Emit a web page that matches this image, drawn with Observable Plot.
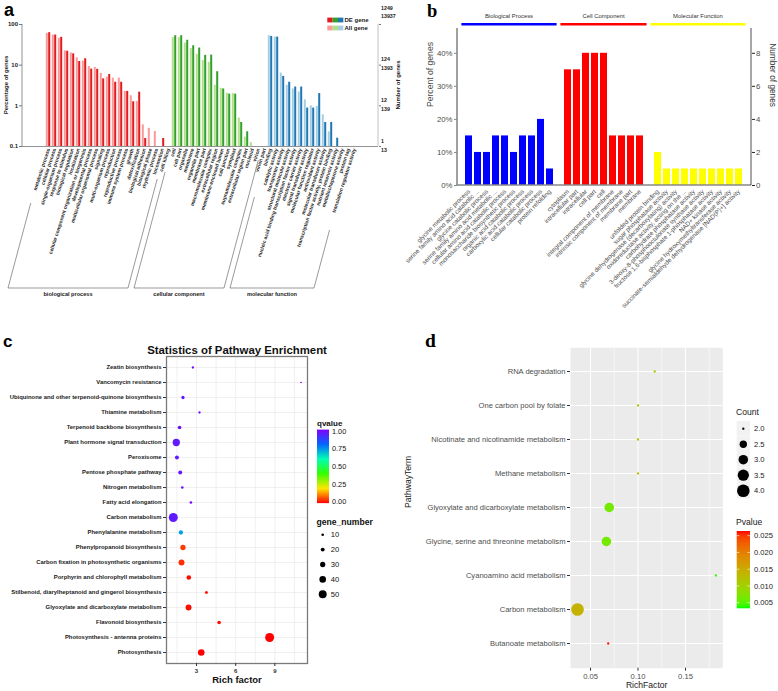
<!DOCTYPE html>
<html><head><meta charset="utf-8">
<script src="https://cdn.jsdelivr.net/npm/d3@7"></script>
<script src="https://cdn.jsdelivr.net/npm/@observablehq/plot@0.6"></script>
<style>
body{margin:0;background:#fff;}
#fig{position:relative;width:778px;height:691px;overflow:hidden;background:#fff;}
.panel{position:absolute;}
</style></head><body>
<div id="fig">
  <div class="panel" id="pa" style="left:0;top:0"></div>
  <div class="panel" id="pb" style="left:385px;top:0"></div>
  <div class="panel" id="pc" style="left:0;top:330px"></div>
  <div class="panel" id="pd" style="left:385px;top:330px"></div>
  <svg id="letters" width="778" height="691" style="position:absolute;left:0;top:0;pointer-events:none">
    <text x="4" y="16" font-family="Liberation Sans" font-weight="bold" font-size="18">a</text>
    <text x="427" y="17" font-family="Liberation Serif" font-weight="bold" font-size="18.5">b</text>
    <text x="3" y="347" font-family="Liberation Sans" font-weight="bold" font-size="17">c</text>
    <text x="425" y="347" font-family="Liberation Serif" font-weight="bold" font-size="19.5">d</text>
  </svg>
</div>
<script>
// ================= DATA =================
// Panel a (GO classification, % of genes, log scale)
const aBPTerms = ["metabolic process","cellular process","single-organism process","response to stimulus","biological regulation","localization","cellular component organization or biogenesis","developmental process","multicellular organismal process","signaling","multi-organism process","reproduction","reproductive process","immune system process","growth","detoxification","biological adhesion","biological phase","rhythmic process","locomotion","cell killing"];
const aBPAll = [60,55,46,22.5,20,15.2,12.6,9.3,8.8,6.3,5.1,4.8,4.8,2.26,1.77,1.28,0.34,0.28,0.234,null,null];
const aBPDE  = [63,55,48.4,22,19,12.3,14.4,8.0,7.9,4.6,5.9,3.8,3.8,2.26,1.26,2.17,0.157,null,null,0.157,null];
const aCCTerms = ["cell","cell part","organelle","membrane","organelle part","membrane part","macromolecular complex","extracellular region","membrane-enclosed lumen","cell junction","symplast","supramolecular complex","extracellular region part","nucleoid","virion","virion part"];
const aCCAll = [47.6,47.6,35,25.5,18.5,13,11.7,3.2,2.7,2.05,2.0,0.5,0.17,0.125,null,null];
const aCCDE  = [53,53,41,30,26.4,17.4,17.7,6.9,2.6,1.94,1.94,0.39,0.23,null,null,null];
const aMFTerms = ["binding","catalytic activity","transporter activity","structural molecule activity","nucleic acid binding transcription factor activity","electron carrier activity","signal transducer activity","molecular function regulator","antioxidant activity","molecular transducer activity","transcription factor activity, protein binding","nutrient reservoir activity","metallochaperone activity","protein tag","translation regulator activity"];
const aMFAll = [53,49,6.4,3.2,2.6,2.2,1.4,1.0,0.97,0.6,0.23,null,null,null,null];
const aMFDE  = [51,49,5.3,3.8,2.9,2.9,0.88,0.88,2.0,0.39,0.39,0.16,null,null,null];
const aGroupNames = ["biological process","cellular component","molecular function"];
const aPctTicks = [0.1,1,10,100];
const aDECounts = [1,12,124,1249];
const aAllCounts = [13,139,1393,13937];
const aLegendLabels = ["DE gene","All gene"];

// Panel b (enriched GO terms)
const bBPTerms = ["glycine metabolic process","serine family amino acid catabolic ...","glycine catabolic process","serine family amino acid metabolic ...","cellular amino acid catabolic process","monosaccharide biosynthetic process","organic acid catabolic process","carboxylic acid catabolic process","cellular catabolic process","protein refolding"];
const bBPPct = [15,10,10,15,15,10,15,15,20,5];
const bCCTerms = ["cytoplasm","intracellular part","intracellular","cell part","cell","integral component of membrane","intrinsic component of membrane","membrane part","membrane"];
const bCCPct = [35,35,40,40,40,15,15,15,15];
const bMFTerms = ["unfolded protein binding","sugar phosphatase activity","glycine dehydrogenase (decarboxylating) activity","oxidoreductase activity, acting on the ...","carbohydrate phosphatase activity","3-deoxy-8-phosphooctulonate synthase activity","fructose 1,6-bisphosphate 1-phosphatase activity","NAD+ kinase activity","glycine hydroxymethyltransferase activity","succinate-semialdehyde dehydrogenase [NAD(P)+] activity"];
const bMFPct = [10,5,5,5,5,5,5,5,5,5];
const bGroupNames = ["Biological Process","Cell Component","Molecular Function"];
const bPctTicks = [0,10,20,30,40];

// Panel c (KEGG pathway enrichment)
const cPaths = ["Zeatin biosynthesis","Vancomycin resistance","Ubiquinone and other terpenoid-quinone biosynthesis","Thiamine metabolism","Terpenoid backbone biosynthesis","Plant hormone signal transduction","Peroxisome","Pentose phosphate pathway","Nitrogen metabolism","Fatty acid elongation","Carbon metabolism","Phenylalanine metabolism","Phenylpropanoid biosynthesis","Carbon fixation in photosynthetic organisms","Porphyrin and chlorophyll metabolism","Stilbenoid, diarylheptanoid and gingerol biosynthesis","Glyoxylate and dicarboxylate metabolism","Flavonoid biosynthesis","Photosynthesis - antenna proteins","Photosynthesis"];
const cRich  = [2.72,11.0,1.96,3.23,1.70,1.45,1.50,1.75,1.91,2.57,1.22,1.80,1.96,1.85,2.41,3.76,2.39,4.73,8.6,3.36];
const cGenes = [8,3,15,8,18,45,20,20,10,10,58,23,30,35,25,13,35,18,58,40];
const cQ     = [0.99,0.99,0.96,0.99,0.97,0.95,0.95,0.96,0.97,0.99,0.95,0.72,0.05,0.04,0.01,0.01,0.01,0.01,0.0,0.0];
const cXTicks = [3,6,9];
const cGrid = [1.5,3,4.5,6,7.5,9,10.5];
const cQTicks = [1,0.75,0.5,0.25,0];
const cGeneTicks = [10,20,30,40,50];

// Panel d (KEGG pathway enrichment)
const dPaths = ["RNA degradation","One carbon pool by folate","Nicotinate and nicotinamide metabolism","Methane metabolism","Glyoxylate and dicarboxylate metabolism","Glycine, serine and threonine metabolism","Cyanoamino acid metabolism","Carbon metabolism","Butanoate metabolism"];
const dRich  = [0.1176,0.1,0.1,0.1,0.0697,0.0667,0.182,0.0363,0.0686];
const dCount = [2,2,2,2,3,3,2,4,2];
const dP     = [0.0105,0.0125,0.0125,0.0125,0.0065,0.0065,0.0038,0.0142,0.0262];
const dXTicks = [0.05,0.10,0.15];
const dMinor = [0.075,0.125,0.175];
const dCountTicks = [2.0,2.5,3.0,3.5,4.0];
const dPTicks = [0.025,0.020,0.015,0.010,0.005];

// ================= STYLE / HELPERS =================
const SANS = "Liberation Sans, Arial, sans-serif";
const svgStyle = {background:"transparent", overflow:"visible", fontFamily:SANS};
const cRainbowStops = [0,0.2,0.4,0.6,0.8,1];
const cRainbow = ["#ff0000","#ffe600","#33ff00","#00ffb3","#0066ff","#8000ff"];
function G(){ return d3.create("svg:g").attr("text-anchor","start").attr("font-family",SANS); }
function mid(x, v){ return x(v) + (x.bandwidth ? x.bandwidth()/2 : 0); }

// ================= PANEL A =================
(function(){
  const style = {
    BP:{light:"#fb9a99", dark:"#e31a1c"},
    CC:{light:"#b2df8a", dark:"#33a02c"},
    MF:{light:"#a6cee3", dark:"#1f78b4"}
  };
  const groups = [
    {key:"BP", terms:aBPTerms, all:aBPAll, de:aBPDE, name:aGroupNames[0]},
    {key:"CC", terms:aCCTerms, all:aCCAll, de:aCCDE, name:aGroupNames[1]},
    {key:"MF", terms:aMFTerms, all:aMFAll, de:aMFDE, name:aGroupNames[2]}
  ];
  const rows = groups.flatMap(g => g.terms.map((t,i)=>({term:t, group:g.key, all:g.all[i], de:g.de[i]})));
  const domain = rows.map(d=>d.term);
  const marks = [];
  for (const g of groups) {
    marks.push(Plot.barY(rows.filter(d=>d.group===g.key && d.all!=null), {x:"term", y1:0.1, y2:"all", fill:style[g.key].light, insetLeft:0.8, insetRight:3.2}));
    marks.push(Plot.barY(rows.filter(d=>d.group===g.key && d.de!=null), {x:"term", y1:0.1, y2:"de", fill:style[g.key].dark, insetLeft:3.2, insetRight:0.8}));
  }
  const isTop = d => d === aPctTicks[aPctTicks.length-1];
  const bracketTop = {BP:[203,179], CC:[172,160], MF:[197,230]};
  const chart = Plot.plot({
    width:405, height:310,
    marginLeft:22, marginRight:27, marginTop:24, marginBottom:164,
    x:{type:"band", domain, range:[34.2,367], padding:0},
    y:{type:"log", domain:[0.1,100]},
    style:svgStyle,
    marks:[
      ...marks,
      Plot.ruleY([0.1], {stroke:"#777", strokeWidth:0.8}),
      Plot.axisX({label:null, tickRotate:-72, tickSize:0, tickPadding:2, fontSize:5, fontWeight:"bold", fill:"#222"}),
      Plot.axisY({label:null, ticks:aPctTicks, tickFormat:d=>String(d), tickSize:3, tickPadding:1.5, fontSize:6, fontWeight:"bold", stroke:"#777", fill:"#222"}),
      Plot.axisY({label:null, anchor:"right", ticks:aPctTicks, tickFormat:()=>"", tickSize:2, stroke:"#777"}),
      (index, scales, values, dim) => {
        const x = scales.x, y = scales.y;
        const g = G();
        const {width, height, marginLeft, marginRight, marginTop, marginBottom} = dim;
        const xr = width - marginRight;
        g.append("line").attr("x1",marginLeft).attr("x2",marginLeft).attr("y1",marginTop).attr("y2",height-marginBottom).attr("stroke","#777").attr("stroke-width",0.8);
        g.append("line").attr("x1",xr).attr("x2",xr).attr("y1",marginTop).attr("y2",height-marginBottom).attr("stroke","#999").attr("stroke-width",0.6);
        // right axis: DE count above, All count below each tick
        aPctTicks.forEach((v,i) => {
          const yy = y(v);
          const dDE = isTop(v) ? -14.5 : -3.2, dAll = isTop(v) ? -6.5 : 5.8;
          g.append("text").attr("x",xr+3).attr("y",yy+dDE).attr("font-size",5.3).attr("font-weight","bold").attr("fill","#222").text(String(aDECounts[i]));
          g.append("text").attr("x",xr+3).attr("y",yy+dAll).attr("font-size",5.3).attr("font-weight","bold").attr("fill","#222").text(String(aAllCounts[i]));
        });
        // axis titles
        const ym = (marginTop + height - marginBottom)/2;
        g.append("text").attr("transform",`translate(8,${ym}) rotate(-90)`).attr("text-anchor","middle").attr("font-size",6).attr("font-weight","bold").attr("fill","#222").text("Percentage of genes");
        g.append("text").attr("transform",`translate(400,${ym}) rotate(-90)`).attr("text-anchor","middle").attr("font-size",6).attr("font-weight","bold").attr("fill","#222").text("Number of genes");
        // brackets
        const yb = 288, k = 1/Math.tan(75*Math.PI/180);
        for (const gr of groups) {
          const bL = mid(x, gr.terms[0]) - 40, bR = mid(x, gr.terms[gr.terms.length-1]) - 40;
          const [tL, tR] = bracketTop[gr.key];
          g.append("path").attr("d", `M${bL + (yb-tL)*k},${tL}L${bL},${yb}L${bR},${yb}L${bR + (yb-tR)*k},${tR}`)
            .attr("fill","none").attr("stroke","#555").attr("stroke-width",0.6);
          g.append("text").attr("x",(bL+bR)/2).attr("y",yb+8).attr("text-anchor","middle")
            .attr("font-size",5.6).attr("font-weight","bold").attr("fill","#222").text(gr.name);
        }
        // legend
        const keys = ["BP","CC","MF"];
        aLegendLabels.forEach((lab, r) => {
          keys.forEach((key, c) => {
            g.append("rect").attr("x", 327.3 + c*5.35).attr("y", 17.6 + r*8).attr("width",5.35).attr("height",4.8)
              .attr("fill", r===0 ? style[key].dark : style[key].light);
          });
          g.append("text").attr("x",344.5).attr("y",22.3 + r*8).attr("font-size",6).attr("font-weight","bold").attr("fill","#222").text(lab);
        });
        return g.node();
      }
    ]
  });
  document.getElementById("pa").appendChild(chart);
})();

// ================= PANEL B =================
(function(){
  const groups = [
    {terms:bBPTerms, pct:bBPPct, color:"#0000ff", name:bGroupNames[0]},
    {terms:bCCTerms, pct:bCCPct, color:"#ff0000", name:bGroupNames[1]},
    {terms:bMFTerms, pct:bMFPct, color:"#ffff00", name:bGroupNames[2]}
  ];
  const domain = [...bBPTerms, "gap1", ...bCCTerms, "gap2", ...bMFTerms];
  const chart = Plot.plot({
    width:393, height:330,
    marginLeft:72, marginRight:27, marginTop:28, marginBottom:145,
    x:{type:"band", domain, range:[76.5,361.5], padding:0.2},
    y:{domain:[0,47.5]},
    style:svgStyle,
    marks:[
      ...groups.map(g => Plot.barY(g.terms.map((t,i)=>({term:t, pct:g.pct[i]})), {x:"term", y:"pct", fill:g.color})),
      Plot.axisX({label:null, tickRotate:-45, tickSize:0, tickPadding:5, fontSize:6.3, fill:"#4d4d4d", tickFormat:d=>d.startsWith("gap")?"":d}),
      Plot.axisY({label:null, ticks:bPctTicks, tickFormat:d=>d+"%", tickSize:3, tickPadding:2, stroke:"#888", fontSize:7.8, fill:"#4d4d4d"}),
      Plot.axisY({label:null, anchor:"right", ticks:bPctTicks, tickFormat:d=>String(d/5), tickSize:3, tickPadding:1.5, stroke:"#222", fontSize:7.8, fill:"#4d4d4d"}),
      Plot.text(["Percent of genes"], {frameAnchor:"left", rotate:-90, dx:-27, fontSize:8.6, fill:"#4d4d4d"}),
      Plot.text(["Number of genes"], {frameAnchor:"right", rotate:90, dx:21.5, fontSize:8.3, fill:"#333"}),
      (index, scales, values, dim) => {
        const x = scales.x, bw = x.bandwidth ? x.bandwidth() : 0;
        const {width, height, marginLeft, marginRight, marginTop, marginBottom} = dim;
        const g = G();
        g.append("line").attr("x1",marginLeft).attr("x2",marginLeft).attr("y1",marginTop).attr("y2",height-marginBottom).attr("stroke","#888").attr("stroke-width",1.6);
        g.append("line").attr("x1",marginLeft).attr("x2",width-marginRight).attr("y1",height-marginBottom).attr("y2",height-marginBottom).attr("stroke","#888").attr("stroke-width",1.6);
        g.append("line").attr("x1",width-marginRight).attr("x2",width-marginRight).attr("y1",marginTop).attr("y2",height-marginBottom).attr("stroke","#222").attr("stroke-width",0.8);
        for (const gr of groups) {
          const x0 = x(gr.terms[0]) - 3.6, x1 = x(gr.terms[gr.terms.length-1]) + bw + 3.6;
          g.append("line").attr("x1",x0).attr("x2",x1).attr("y1",24.3).attr("y2",24.3).attr("stroke",gr.color).attr("stroke-width",2.6);
          g.append("text").attr("x",(x0+x1)/2).attr("y",18.2).attr("text-anchor","middle").attr("font-size",5.9).attr("fill","#333").text(gr.name);
        }
        return g.node();
      }
    ]
  });
  document.getElementById("pb").appendChild(chart);
})();

// ================= PANEL C =================
(function(){
  const rows = cPaths.map((p,i)=>({path:p, rich:cRich[i], genes:cGenes[i], q:cQ[i]}));
  const chart = Plot.plot({
    width:380, height:361,
    marginLeft:166, marginRight:73, marginTop:26, marginBottom:28,
    x:{domain:[0.7,11.5]},
    y:{type:"point", domain:cPaths, padding:0.57},
    r:{type:"linear", domain:[0,55], range:[0.63,4.3]},
    color:{type:"linear", domain:cRainbowStops, range:cRainbow, interpolate:"rgb"},
    style:svgStyle,
    marks:[
      Plot.gridX(cGrid, {stroke:"#e6e6e6", strokeOpacity:1, strokeWidth:0.6}),
      Plot.gridY({stroke:"#e6e6e6", strokeOpacity:1, strokeWidth:0.6}),
      Plot.dot(rows, {x:"rich", y:"path", r:"genes", fill:"q"}),
      Plot.frame({stroke:"#7a7a7a", strokeWidth:1.3}),
      Plot.axisY({label:null, tickSize:3, tickPadding:2, fontSize:5.9, fontWeight:"bold", fill:"#1a1a1a", stroke:"#333"}),
      Plot.axisX({label:null, ticks:cXTicks, tickSize:3, tickPadding:2, fontSize:6, fontWeight:"bold", fill:"#333", stroke:"#333"}),
      Plot.text(["Rich factor"], {frameAnchor:"bottom", dy:19, fontSize:9.5, fontWeight:"bold", fill:"#111"}),
      Plot.text(["Statistics of Pathway Enrichment"], {frameAnchor:"top", dy:-11, fontSize:11.4, fontWeight:"bold", fill:"#111"}),
      (index, scales) => {
        const g = G();
        const grad = g.append("defs").append("linearGradient").attr("id","gradC").attr("x1",0).attr("y1",1).attr("x2",0).attr("y2",0);
        d3.range(0, 1.0001, 0.05).forEach(t => grad.append("stop").attr("offset",t).attr("stop-color",scales.color(t)));
        const ly = v => 171.7 - v*70.7;
        g.append("text").attr("x",317).attr("y",95.5).attr("font-size",8).attr("font-weight","bold").attr("fill","#111").text("qvalue");
        g.append("rect").attr("x",317).attr("y",ly(1.02)).attr("width",12).attr("height",ly(-0.02)-ly(1.02)).attr("fill","url(#gradC)");
        cQTicks.forEach(v => g.append("text").attr("x",332).attr("y",ly(v)+2.6).attr("font-size",7.3).attr("fill","#111").text(v.toFixed(2)));
        g.append("text").attr("x",316.5).attr("y",194.5).attr("font-size",8.6).attr("font-weight","bold").attr("fill","#111").text("gene_number");
        cGeneTicks.forEach((v,i) => {
          const yy = 204.7 + i*14.9;
          g.append("circle").attr("cx",322.7).attr("cy",yy).attr("r",scales.r(v)).attr("fill","#000");
          g.append("text").attr("x",330.7).attr("y",yy+2.7).attr("font-size",7.6).attr("fill","#111").text(String(v));
        });
        return g.node();
      }
    ]
  });
  document.getElementById("pc").appendChild(chart);
})();

// ================= PANEL D =================
(function(){
  const countBase = 1.999;
  const rows = dPaths.map((p,i)=>({path:p, rich:dRich[i], count:dCount[i], p:dP[i]}));
  const chart = Plot.plot({
    width:393, height:361,
    marginLeft:185, marginRight:55.7, marginTop:17.3, marginBottom:23.3,
    x:{domain:[0.0289,0.1893]},
    y:{type:"point", domain:dPaths, padding:0.6},
    r:{type:"sqrt", domain:[0, 4-countBase], range:[1.05,6.3]},
    color:{type:"linear", domain:[0.00333,0.0264], range:["#00ff00","#ff0000"], interpolate:"lab"},
    style:svgStyle,
    marks:[
      Plot.frame({fill:"#ebebeb", stroke:null}),
      Plot.gridX(dMinor, {stroke:"#fff", strokeOpacity:1, strokeWidth:0.55}),
      Plot.gridX(dXTicks, {stroke:"#fff", strokeOpacity:1, strokeWidth:1.1}),
      Plot.gridY({stroke:"#fff", strokeOpacity:1, strokeWidth:1.1}),
      Plot.dot(rows, {x:"rich", y:"path", r:d=>d.count-countBase, fill:"p"}),
      Plot.axisY({label:null, tickSize:3, tickPadding:2, fontSize:7.6, fill:"#4d4d4d", stroke:"#333"}),
      Plot.axisX({label:null, ticks:dXTicks, tickFormat:d3.format(".2f"), tickSize:3, tickPadding:2, fontSize:7.6, fill:"#4d4d4d", stroke:"#333"}),
      Plot.text(["RichFactor"], {frameAnchor:"bottom", dy:19.4, fontSize:8.6, fill:"#1a1a1a"}),
      Plot.text(["PathwayTerm"], {frameAnchor:"left", dx:-162, rotate:-90, fontSize:8.6, fill:"#1a1a1a"}),
      (index, scales) => {
        const g = G();
        g.append("text").attr("x",351).attr("y",84.6).attr("font-size",8.6).attr("fill","#1a1a1a").text("Count");
        dCountTicks.forEach((v,i) => {
          const yy = 98.7 + i*15.5;
          g.append("rect").attr("x",351.7).attr("y",yy-7.7).attr("width",13.3).attr("height",15.4).attr("fill","#f2f2f2");
          g.append("circle").attr("cx",358.3).attr("cy",yy).attr("r",scales.r(v-countBase)).attr("fill","#000");
          g.append("text").attr("x",369).attr("y",yy+2.7).attr("font-size",7.6).attr("fill","#1a1a1a").text(v.toFixed(1));
        });
        const [p0, p1] = [0.00333, 0.0264];
        const py = v => 205.7 + (0.025 - v)*3350;
        g.append("text").attr("x",351).attr("y",195.4).attr("font-size",8.6).attr("fill","#1a1a1a").text("Pvalue");
        const grad = g.append("defs").append("linearGradient").attr("id","gradD").attr("x1",0).attr("y1",1).attr("x2",0).attr("y2",0);
        d3.range(0, 1.0001, 0.05).forEach(t => grad.append("stop").attr("offset",t).attr("stop-color",scales.color(p0 + t*(p1-p0))));
        g.append("rect").attr("x",351.7).attr("y",py(p1)).attr("width",13.3).attr("height",py(p0)-py(p1)).attr("fill","url(#gradD)");
        dPTicks.forEach(v => {
          g.append("line").attr("x1",351.7).attr("x2",354.4).attr("y1",py(v)).attr("y2",py(v)).attr("stroke","#fff").attr("stroke-width",0.6);
          g.append("line").attr("x1",362.3).attr("x2",365).attr("y1",py(v)).attr("y2",py(v)).attr("stroke","#fff").attr("stroke-width",0.6);
          g.append("text").attr("x",369).attr("y",py(v)+2.7).attr("font-size",7.6).attr("fill","#1a1a1a").text(v.toFixed(3));
        });
        return g.node();
      }
    ]
  });
  document.getElementById("pd").appendChild(chart);
})();
</script>
</body></html>
